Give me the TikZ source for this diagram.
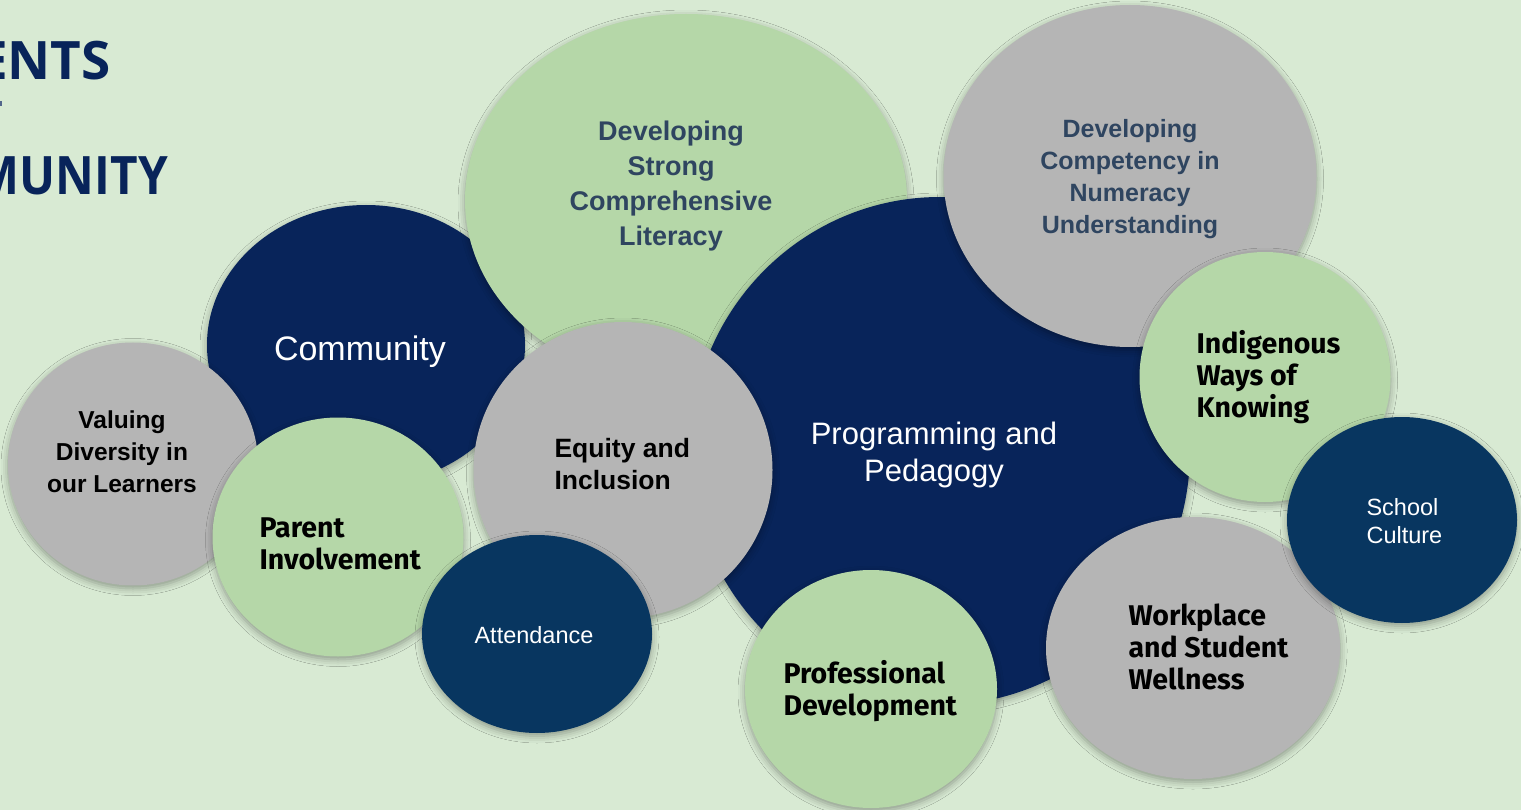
\documentclass[tikz,border=0pt]{standalone}
\usepackage{fontspec}
\setmainfont{Liberation Sans}
\newfontfamily\headfont{Open Sans}
\newfontfamily\humfont{Fira Sans}
\usetikzlibrary{shapes.geometric,shadows.blur}

\definecolor{bg}{HTML}{D8EAD3}
\definecolor{leaf}{HTML}{B5D7A8}
\definecolor{stone}{HTML}{B5B5B5}
\definecolor{navy}{HTML}{08245A}
\definecolor{ocean}{HTML}{083660}
\definecolor{slate}{HTML}{2F4560}

\tikzset{
  bub/.style={ellipse, inner sep=0pt, draw=none,
    blur shadow={shadow xshift=0pt, shadow yshift=-3pt,
      shadow blur radius=7pt, shadow opacity=35}},
  robo/.style={font=\fontsize{#1}{#1}\selectfont\bfseries, align=center},
  hum/.style={font=\humfont\fontsize{#1}{32}\selectfont\bfseries, align=left, text=black, anchor=west},
  plain/.style={font=\fontsize{#1}{28}\selectfont, text=white}
}

\begin{document}
\begin{tikzpicture}[x=1pt,y=-1pt]
\useasboundingbox (0,0) rectangle (1521,810);
\clip (0,0) rectangle (1521,810);
\fill[bg] (0,0) rectangle (1521,810);

% heading, cut by the left edge
\node[font=\headfont\bfseries\fontsize{53}{53}\selectfont, text=navy, anchor=base east, inner sep=0pt] (h1) at (111,80) {ENTS};
\node[font=\headfont\bfseries\fontsize{53}{53}\selectfont, text=navy, anchor=base east, inner sep=0pt] (h2) at (168,195) {\scalebox{0.9}[1]{MUNITY}};
\fill[navy!70] (0,101) rectangle (2,106);

% bubbles, back to front
\node[bub, fill=navy,  minimum width=318pt, minimum height=280pt] (com) at (366,345) {};
\node[bub, fill=leaf,  minimum width=442pt, minimum height=372pt] (lit) at (686,200) {};
\node[bub, fill=navy,  minimum width=500pt, minimum height=508pt] (prog) at (940,451) {};
\node[bub, fill=stone, minimum width=373pt, minimum height=342pt] (num) at (1130,176) {};
\node[bub, fill=leaf,  minimum width=251pt, minimum height=250pt] (ind) at (1265,377) {};
\node[bub, fill=stone, minimum width=294pt, minimum height=262pt] (work) at (1193,648) {};
\node[bub, fill=ocean, minimum width=230pt, minimum height=206pt] (cult) at (1402,520) {};
\node[bub, fill=leaf,  minimum width=252pt, minimum height=238pt] (prof) at (871,689) {};
\node[bub, fill=stone, minimum width=299pt, minimum height=296pt] (eq) at (623,470) {};
\node[bub, fill=stone, minimum width=250pt, minimum height=243pt] (val) at (133,464) {};
\node[bub, fill=leaf,  minimum width=251pt, minimum height=239pt] (par) at (338,537) {};
\node[bub, fill=ocean, minimum width=230pt, minimum height=198pt] (att) at (537,634) {};

% labels
\node[font=\fontsize{34}{34}\selectfont, text=white] (tcom) at (360,352) {Community};
\node[font=\fontsize{31}{37}\selectfont, text=white, align=center] (tprog) at (934,455) {Programming and\\Pedagogy};
\node[text=slate, align=center, font=\fontsize{27}{35}\selectfont\bfseries] (tlit) at (671,186) {Developing\\Strong\\Comprehensive\\Literacy};
\node[text=slate, align=center, font=\fontsize{25}{32}\selectfont\bfseries] (tnum) at (1130,179) {Developing\\Competency in\\Numeracy\\Understanding};
\node[hum=28.5] (tind) at (1193,377) {Indigenous\\Ways of\\Knowing};
\node[plain=23.5, align=left, anchor=west] (tcult) at (1363,521) {School\\Culture};
\node[hum=28.5] (twork) at (1125,647) {Workplace\\and Student\\Wellness};
\node[hum=28.5] (tprof) at (780,691) {Professional\\Development};
\node[text=black, font=\fontsize{26.5}{32}\selectfont\bfseries, align=left, anchor=west] (teq) at (551,464) {Equity and\\Inclusion};
\node[text=black, align=center, font=\fontsize{24.5}{32}\selectfont\bfseries] (tval) at (122,452) {Valuing\\Diversity in\\our Learners};
\node[hum=28.5] (tpar) at (256,544) {Parent\\Involvement};
\node[plain=23.5] (tatt) at (534,635) {Attendance};
\end{tikzpicture}
\end{document}
